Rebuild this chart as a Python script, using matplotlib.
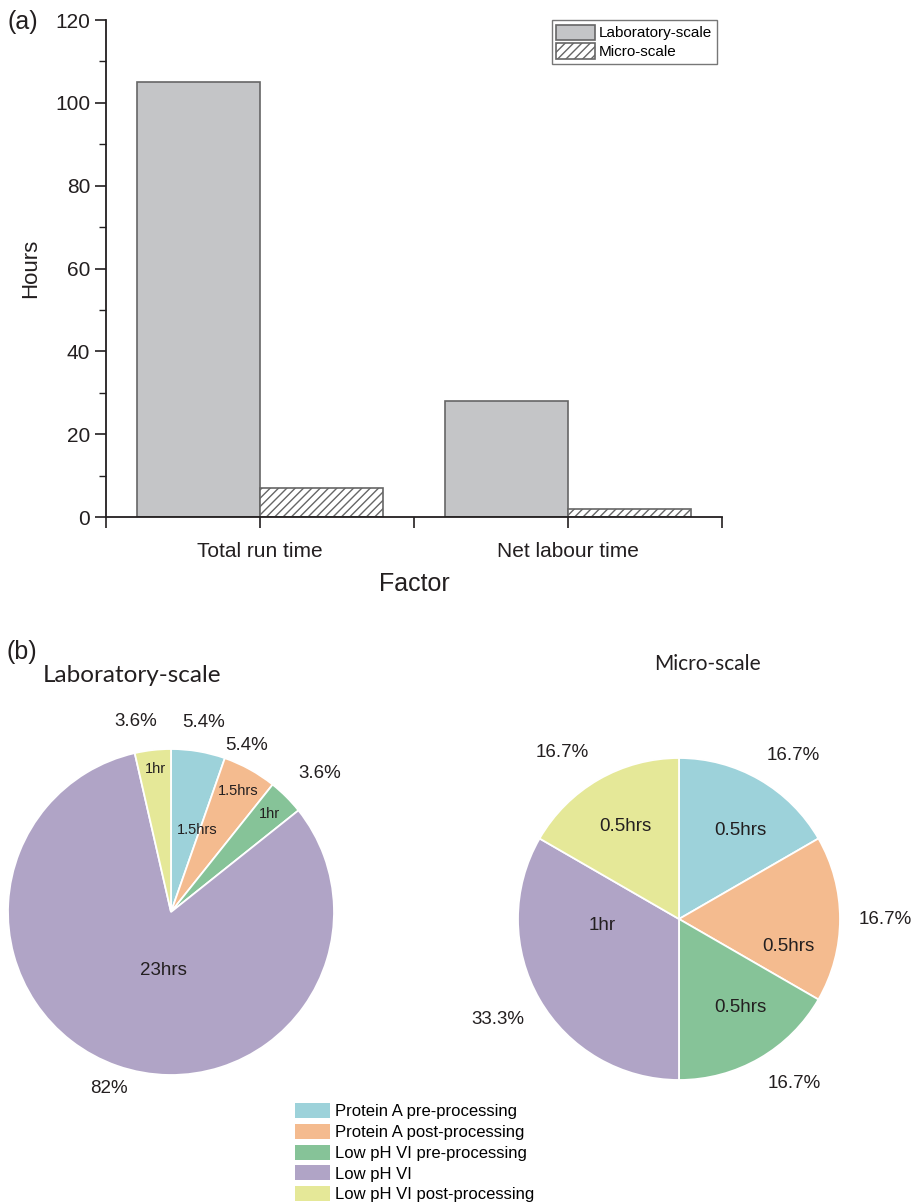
import numpy as np
import matplotlib
matplotlib.use('Agg')
import matplotlib.pyplot as plt
from matplotlib.patches import Patch

plt.rcParams['font.family'] = ['Liberation Sans', 'DejaVu Sans']
plt.rcParams['hatch.linewidth'] = 1.0

# ----- Data -----
factors = ['Total run time', 'Net labour time']
lab_hours = [105, 28]
micro_hours = [7, 2]

steps = ['Protein A pre-processing', 'Protein A post-processing',
         'Low pH VI pre-processing', 'Low pH VI', 'Low pH VI post-processing']
lab_step_hours = [1.5, 1.5, 1, 23, 1]
micro_step_hours = [0.5, 0.5, 0.5, 1, 0.5]
lab_step_text = ['1.5hrs', '1.5hrs', '1hr', '23hrs', '1hr']
micro_step_text = ['0.5hrs', '0.5hrs', '0.5hrs', '1hr', '0.5hrs']
lab_pct_text = ['5.4%', '5.4%', '3.6%', '82%', '3.6%']
micro_pct_text = ['16.7%', '16.7%', '16.7%', '33.3%', '16.7%']

colors = ['#9dd2da', '#f4bb8f', '#86c398', '#b0a4c6', '#e5e898']
txt_col = '#231f20'

W, H = 912, 1204
fig = plt.figure(figsize=(W/100, H/100), dpi=100)

def px(l, t, r, b):
    return [l/W, 1 - b/H, (r - l)/W, (b - t)/H]

# ----- (a) bar chart -----
ax = fig.add_axes(px(106, 20, 722, 517))
x = np.arange(1, len(factors) + 1)
ax.bar(x, lab_hours, width=-0.4, align='edge', color='#c4c5c7',
       edgecolor='#666666', linewidth=1.2, label='Laboratory-scale')
ax.bar(x, micro_hours, width=0.4, align='edge', color='white', hatch='////',
       edgecolor='#666666', linewidth=1.2, label='Micro-scale')

ax.set_xlim(0.5, 2.5)
ax.set_ylim(0, 120)
ax.set_xticks([0.5, 1, 1.5, 2, 2.5])
ax.set_xticklabels(['', factors[0], '', factors[1], ''])
ax.set_yticks(np.arange(0, 121, 20))
ax.set_yticks(np.arange(0, 121, 10), minor=True)
ax.spines['top'].set_visible(False)
ax.spines['right'].set_visible(False)
for s in ['left', 'bottom']:
    ax.spines[s].set_linewidth(1.3)
    ax.spines[s].set_color(txt_col)
ax.tick_params(axis='both', which='major', direction='out', length=8, width=1.2,
               colors=txt_col, labelsize=15)
ax.tick_params(axis='y', which='minor', direction='out', length=5, width=1.0,
               colors=txt_col)
ax.tick_params(axis='x', pad=10)
ax.set_xlabel('Factor', fontsize=18, color=txt_col, labelpad=8)
ax.set_ylabel('Hours', fontsize=16, color=txt_col, labelpad=10)

leg = ax.legend(loc='upper right', bbox_to_anchor=(717/W, 1 - 20/H),
                bbox_transform=fig.transFigure, fontsize=11, frameon=True,
                fancybox=False, edgecolor='#555555', borderpad=0.3,
                handlelength=2.5, handleheight=1.15, handletextpad=0.3,
                labelspacing=0.2, borderaxespad=0)
leg.get_frame().set_linewidth(1.0)

fig.text(8/W, 1 - 22/H, '(a)', fontsize=18, color=txt_col, va='center')
fig.text(7/W, 1 - 652/H, '(b)', fontsize=18, color=txt_col, va='center')

# ----- (b) pie charts -----
def draw_pie(rect, values, inner_text, inner_r, inner_shift, inner_size,
             pct_text, pct_r, pct_shift, pct_size):
    pax = fig.add_axes(rect)
    wedges, _ = pax.pie(values, colors=colors, startangle=90, counterclock=False,
                        wedgeprops=dict(edgecolor='white', linewidth=1.3))
    pax.set_xlim(-1, 1)
    pax.set_ylim(-1, 1)
    for i, w in enumerate(wedges):
        mid = (w.theta1 + w.theta2) / 2
        a = np.deg2rad(mid + inner_shift[i])
        pax.text(inner_r[i]*np.cos(a), inner_r[i]*np.sin(a), inner_text[i],
                 ha='center', va='center', fontsize=inner_size[i], color=txt_col)
        a = np.deg2rad(mid + pct_shift[i])
        pax.text(pct_r[i]*np.cos(a), pct_r[i]*np.sin(a), pct_text[i],
                 ha='center', va='center', fontsize=pct_size, color=txt_col)
    return pax

draw_pie(px(8, 749, 334, 1075), lab_step_hours,
         lab_step_text, [0.53, 0.85, 0.85, 0.36, 0.88], [-8, 0, 0, 12, 0],
         [10.5, 10.5, 10.5, 13.5, 10.5],
         lab_pct_text, [1.18, 1.12, 1.25, 1.15, 1.19], [0, 4.6, -2, 0, 4], 13.5)

draw_pie(px(518, 758, 840, 1080), micro_step_hours,
         micro_step_text, [0.67, 0.70, 0.67, 0.48, 0.66], [-5, -14, 5, -25, 0],
         [13.5] * 5,
         micro_pct_text, [1.24, 1.28, 1.25, 1.29, 1.26], [-5, 0, 5, -1, 5], 13.5)

fig.text(132/W, 1 - 675/H, 'Laboratory-scale', fontsize=17.5, color=txt_col,
         ha='center', va='center', family=['Lato', 'DejaVu Sans'])
fig.text(707/W, 1 - 664/H, 'Micro-scale', fontsize=15, color=txt_col,
         ha='center', va='center', family=['Lato', 'DejaVu Sans'])

handles = [Patch(facecolor=c, edgecolor='none') for c in colors]
fig.legend(handles, steps, loc='upper left', bbox_to_anchor=(295/W, 1 - 1103/H),
           fontsize=12, frameon=False, handlelength=2.1, handleheight=1.0,
           handletextpad=0.3, labelspacing=0.28, borderaxespad=0, borderpad=0)

fig.savefig('out.png', dpi=100)
